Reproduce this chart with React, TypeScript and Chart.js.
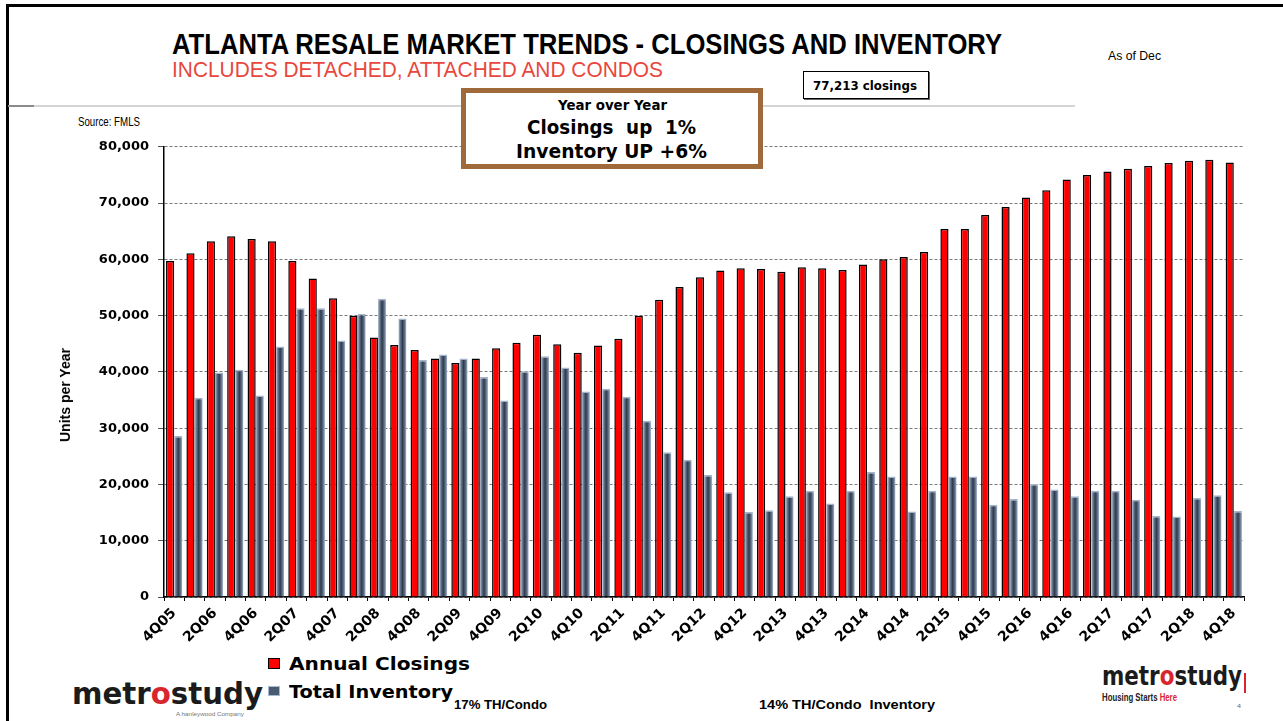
import React, { useEffect, useLayoutEffect, useRef } from "react";
import { Chart, registerables } from "chart.js";

Chart.register(...registerables);

const quarters: string[] = [
  "4Q05",
  "1Q06", "2Q06", "3Q06", "4Q06",
  "1Q07", "2Q07", "3Q07", "4Q07",
  "1Q08", "2Q08", "3Q08", "4Q08",
  "1Q09", "2Q09", "3Q09", "4Q09",
  "1Q10", "2Q10", "3Q10", "4Q10",
  "1Q11", "2Q11", "3Q11", "4Q11",
  "1Q12", "2Q12", "3Q12", "4Q12",
  "1Q13", "2Q13", "3Q13", "4Q13",
  "1Q14", "2Q14", "3Q14", "4Q14",
  "1Q15", "2Q15", "3Q15", "4Q15",
  "1Q16", "2Q16", "3Q16", "4Q16",
  "1Q17", "2Q17", "3Q17", "4Q17",
  "1Q18", "2Q18", "3Q18", "4Q18",
];

const annualClosings: number[] = [
  59700, 61100, 63200, 64100, 63600, 63200, 59700, 56600, 53100, 50000,
  46100, 44800, 43900, 42400, 41600, 42400, 44200, 45200, 46600, 44900,
  43400, 44700, 45900, 50000, 52800, 55100, 56800, 58000, 58400, 58300,
  57800, 58600, 58400, 58100, 59100, 60000, 60400, 61300, 65400, 65400,
  67900, 69300, 71000, 72300, 74200, 75000, 75600, 76100, 76600, 77100,
  77500, 77700, 77213,
];

const totalInventory: number[] = [
  28600, 35400, 39900, 40400, 35800, 44500, 51300, 51300, 45600, 50300,
  53000, 49500, 42100, 43100, 42400, 39100, 34900, 40100, 42800, 40800,
  36500, 37000, 35600, 31300, 25700, 24400, 21700, 18600, 15100, 15400,
  17900, 18900, 16600, 18900, 22200, 21400, 15200, 18900, 21400, 21400,
  16400, 17400, 20100, 19100, 17900, 18900, 18900, 17300, 14400, 14300,
  17600, 18100, 15300,
];

const yMin = 0;
const yMax = 80000;
const yStep = 10000;

const CAT_PCT = 0.8;

const SANS = '"Liberation Sans", Arial, sans-serif';
const DEJA = '"DejaVu Sans", Verdana, sans-serif';

type FitProps = {
  left: number;
  cy: number;
  size: number;
  width?: number;
  weight?: number;
  family?: string;
  color?: string;
  children: React.ReactNode;
};

function FitText({ left, cy, size, width, weight = 700, family = SANS, color = "#000", children }: FitProps) {
  const ref = useRef<HTMLSpanElement>(null);
  useLayoutEffect(() => {
    const el = ref.current;
    if (!el || !width) return;
    el.style.transform = "none";
    const w = el.getBoundingClientRect().width;
    if (w > 0) el.style.transform = `scaleX(${width / w})`;
  });
  return (
    <span
      ref={ref}
      style={{
        position: "absolute",
        left,
        top: cy - 0.49 * size,
        fontSize: size,
        lineHeight: `${size}px`,
        fontFamily: family,
        fontWeight: weight,
        color,
        whiteSpace: "pre",
        transformOrigin: "left center",
      }}
    >
      {children}
    </span>
  );
}

// horizontal metallic gradient for the inventory bars, placed via the x scale
function inventoryFill(c: any) {
  const chart = c.chart;
  const xs = chart.scales && chart.scales.x;
  if (!xs || c.dataIndex === undefined || !chart.chartArea) return "#3e4c60";
  const cw = (xs.right - xs.left) / quarters.length;
  const bw = (cw * CAT_PCT) / 2;
  const center = xs.getPixelForValue(c.dataIndex) + bw / 2;
  const x0 = center - bw / 2;
  const x1 = center + bw / 2;
  if (!isFinite(x0) || !isFinite(x1)) return "#3e4c60";
  const g = chart.ctx.createLinearGradient(x0, 0, x1, 0);
  g.addColorStop(0, "#b8c6da");
  g.addColorStop(0.25, "#62728a");
  g.addColorStop(0.5, "#2f3b4c");
  g.addColorStop(0.75, "#5a6a82");
  g.addColorStop(1, "#aebdd2");
  return g;
}

function ChartCanvas() {
  const ref = useRef<HTMLCanvasElement>(null);
  useEffect(() => {
    if (!ref.current) return;
    const chart = new Chart(ref.current, {
      type: "bar",
      data: {
        labels: quarters,
        datasets: [
          {
            label: "Annual Closings",
            data: annualClosings,
            backgroundColor: "#ff0000",
            borderColor: "#000000",
            borderWidth: { top: 1.5, left: 1.5, right: 1.5, bottom: 0 },
            borderSkipped: false,
            categoryPercentage: CAT_PCT,
            barPercentage: 1.0,
          },
          {
            label: "Total Inventory",
            data: totalInventory,
            backgroundColor: inventoryFill,
            borderColor: "#a3b4cb",
            borderWidth: { top: 1.5, left: 0, right: 0, bottom: 0 },
            borderSkipped: false,
            categoryPercentage: CAT_PCT,
            barPercentage: 1.0,
          },
        ],
      },
      options: {
        responsive: false,
        animation: false,
        layout: { padding: { top: 13, right: 39, left: 0, bottom: 0 } },
        plugins: {
          legend: { display: false },
          title: { display: false },
          tooltip: { enabled: false },
        },
        scales: {
          x: {
            afterFit: (s: any) => {
              s.height = 53;
            },
            grid: {
              display: true,
              drawOnChartArea: false,
              drawTicks: true,
              tickLength: 4,
              color: "#000",
              tickColor: "#000",
            },
            border: { display: true, color: "#000", width: 1.5 },
            ticks: {
              autoSkip: false,
              minRotation: 45,
              maxRotation: 45,
              padding: 4,
              color: "#000",
              font: { family: DEJA, size: 14, weight: "bold" },
              callback: (_v: any, i: number) => (i % 2 === 0 ? quarters[i] : ""),
            },
          },
          y: {
            min: yMin,
            max: yMax,
            afterFit: (s: any) => {
              s.width = 164;
            },
            grid: {
              color: "#7a7a7a",
              lineWidth: 1,
              drawTicks: true,
              tickLength: 6,
              tickColor: "#555",
              tickBorderDash: [],
            },
            border: { display: true, color: "#000", width: 1.5, dash: [3, 2] },
            ticks: {
              stepSize: yStep,
              padding: 9,
              color: "#000",
              font: { family: DEJA, size: 13, weight: "bold" },
              callback: (v: any) => Number(v).toLocaleString("en-US"),
            },
          },
        },
      },
    } as any);
    return () => chart.destroy();
  }, []);
  return (
    <canvas
      ref={ref}
      width={1283}
      height={520}
      style={{ position: "absolute", left: 0, top: 130, width: 1283, height: 520 }}
    />
  );
}

export default function App() {
  return (
    <div
      style={{
        position: "fixed",
        left: 0,
        top: 0,
        width: 1283,
        height: 721,
        background: "#fff",
        overflow: "hidden",
      }}
    >
      {/* frame */}
      <div style={{ position: "absolute", left: 6, top: 4, width: 1277, height: 3, background: "#000" }} />
      <div style={{ position: "absolute", left: 6, top: 4, width: 3, height: 717, background: "#000" }} />
      {/* separator */}
      <div style={{ position: "absolute", left: 8, top: 105, width: 1067, height: 2, background: "#d4d4d4" }} />
      <div style={{ position: "absolute", left: 8, top: 105, width: 26, height: 2, background: "#8a8a8a" }} />

      <ChartCanvas />

      <FitText left={172} cy={44} size={30} width={830} weight={700}>
        ATLANTA RESALE MARKET TRENDS - CLOSINGS AND INVENTORY
      </FitText>
      <FitText left={172} cy={70} size={22} width={491} weight={400} color="#e8473d">
        INCLUDES DETACHED, ATTACHED AND CONDOS
      </FitText>
      <FitText left={1108} cy={56} size={12} width={53} weight={400}>
        As of Dec
      </FitText>

      <div
        style={{
          position: "absolute",
          left: 803,
          top: 71,
          width: 124,
          height: 26,
          border: "1px solid #000",
          boxShadow: "1px 1px 0 #666",
          background: "#fff",
        }}
      />
      <FitText left={813} cy={85} size={13} width={104} family={DEJA}>
        77,213 closings
      </FitText>

      <div
        style={{
          position: "absolute",
          left: 461,
          top: 88,
          width: 292,
          height: 71,
          border: "5px solid #a0693a",
          background: "#fff",
        }}
      />
      <FitText left={558} cy={105} size={14} width={109} family={DEJA}>
        Year over Year
      </FitText>
      <FitText left={527} cy={127} size={20} width={169} family={DEJA}>
        {"Closings  up  1%"}
      </FitText>
      <FitText left={516} cy={151} size={20} width={191} family={DEJA}>
        Inventory UP +6%
      </FitText>

      <FitText left={78} cy={121} size={13} width={62} weight={400}>
        Source: FMLS
      </FitText>

      <div
        style={{
          position: "absolute",
          left: 65,
          top: 395,
          transform: "translate(-50%, -50%) rotate(-90deg)",
          fontFamily: SANS,
          fontWeight: 700,
          fontSize: 14,
          whiteSpace: "nowrap",
          color: "#000",
        }}
      >
        Units per Year
      </div>

      {/* legend */}
      <div
        style={{
          position: "absolute",
          left: 268,
          top: 658,
          width: 10,
          height: 9,
          background: "#ff0000",
          border: "1.5px solid #000",
        }}
      />
      <FitText left={289} cy={664} size={17} width={181} family={DEJA}>
        Annual Closings
      </FitText>
      <div
        style={{
          position: "absolute",
          left: 268,
          top: 686,
          width: 10,
          height: 8,
          background: "#4a5a70",
          border: "1.5px solid #a9b9cf",
        }}
      />
      <FitText left={289} cy={692} size={17} width={164} family={DEJA}>
        Total Inventory
      </FitText>

      <FitText left={454} cy={704} size={13} width={93}>
        17% TH/Condo
      </FitText>
      <FitText left={759} cy={704} size={13} width={176}>
        {"14% TH/Condo  Inventory"}
      </FitText>

      {/* left logo */}
      <FitText left={72} cy={693} size={31} width={191} family={DEJA} color="#1b1b1b">
        metr<span style={{ color: "#d9262e" }}>o</span>study
      </FitText>
      <FitText left={176} cy={714} size={5} width={68} weight={400} color="#777">
        A hanleywood Company
      </FitText>

      {/* right logo */}
      <FitText left={1102} cy={675} size={27} width={140} family={DEJA} color="#1b1b1b">
        metr<span style={{ color: "#d9262e" }}>o</span>study
      </FitText>
      <div style={{ position: "absolute", left: 1244, top: 673, width: 2, height: 20, background: "#d9262e" }} />
      <FitText left={1102} cy={698} size={10} width={75} color="#222">
        Housing Starts <span style={{ color: "#d9262e" }}>Here</span>
      </FitText>
      <FitText left={1237} cy={706} size={6} width={4} weight={400} color="#666">
        4
      </FitText>
    </div>
  );
}
